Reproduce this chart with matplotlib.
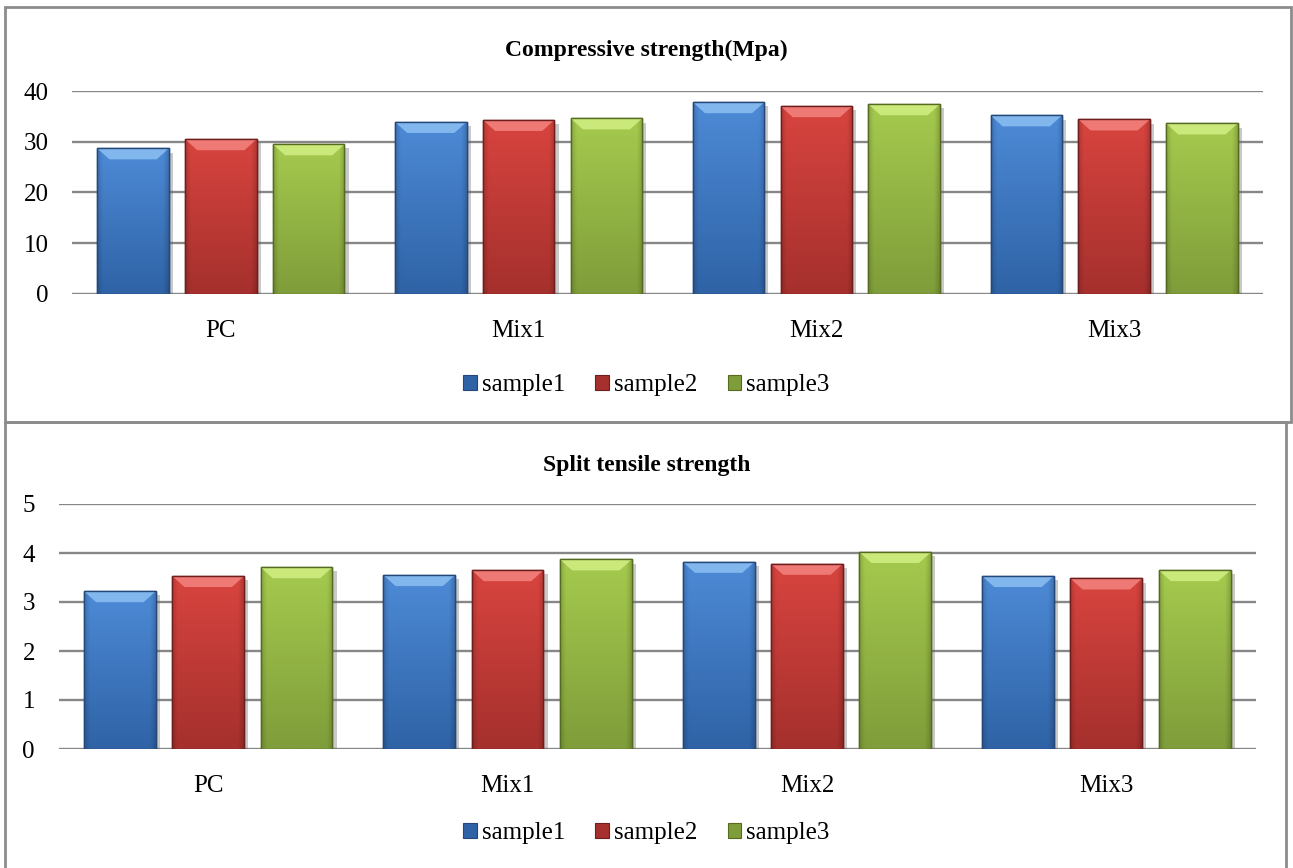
import numpy as np
import matplotlib.pyplot as plt
from matplotlib.patches import Rectangle, Polygon, Patch
from matplotlib import patheffects as pe
from matplotlib.colors import to_rgb

plt.rcParams['font.family'] = ['Liberation Serif', 'DejaVu Serif']

# data
categories = ['PC', 'Mix1', 'Mix2', 'Mix3']
series_names = ['sample1', 'sample2', 'sample3']
comp_sample1 = [28.7, 33.9, 37.8, 35.2]
comp_sample2 = [30.5, 34.3, 37.0, 34.4]
comp_sample3 = [29.5, 34.6, 37.4, 33.6]
split_sample1 = [3.22, 3.55, 3.82, 3.53]
split_sample2 = [3.53, 3.65, 3.78, 3.48]
split_sample3 = [3.71, 3.87, 4.02, 3.65]

# (top colour, bottom colour, edge, bevel highlight)
styles = [
    ('#4d8ad6', '#2f63a6', '#24487a', '#8cc0f2'),
    ('#d8443f', '#a5302d', '#6e1e1c', '#f48480'),
    ('#a5ca4e', '#7f9d3a', '#556b22', '#d2ef84'),
]

W, H = 1293, 868
fig = plt.figure(figsize=(W / 100, H / 100), dpi=100)


def fx(px):
    return px / W


def fy(py):
    return 1 - py / H


def shade_bar(ax, bar, st):
    x, w, h = bar.get_x(), bar.get_width(), bar.get_height()
    top, bottom, edge, light = [np.array(to_rgb(c)) for c in st]
    t = np.linspace(0, 1, 80)[:, None]
    col = (1 - t) * top + t * bottom
    xs = np.linspace(0, 1, 40)
    side = 1 - 0.15 * np.clip(1 - np.minimum(xs, 1 - xs) / 0.07, 0, 1)
    img = np.clip(col[:, None, :] * side[None, :, None], 0, 1)
    im = ax.imshow(img, extent=[x, x + w, 0, h], aspect='auto', origin='upper',
                   zorder=2.1, interpolation='bilinear')
    im.set_clip_path(bar)
    # top bevel
    units_per_px = ax.get_ylim()[1] / ax.bbox.height
    dy = 11 * units_per_px
    dx = 0.17 * w
    bev = Polygon([(x, h), (x + w, h), (x + w - dx, h - dy), (x + dx, h - dy)],
                  closed=True, facecolor=light, edgecolor='none', alpha=0.85, zorder=2.2)
    ax.add_patch(bev)
    ax.add_patch(Rectangle((x, 0), w, h, fill=False, edgecolor=edge, lw=1.0, zorder=2.3))


def draw_panel(rect, series, ymax, ystep, title, title_y, legend_y):
    ax = fig.add_axes(rect)
    xpos = np.arange(len(categories))
    width = 0.24
    step = 0.295
    for i, vals in enumerate(series):
        bars = ax.bar(xpos + (i - 1) * step, vals, width, color=styles[i][1],
                      edgecolor=styles[i][2], lw=1.0, zorder=2)
        for b in bars:
            b.set_path_effects([pe.SimplePatchShadow(offset=(3, -3), shadow_rgbFace='#666666', alpha=0.35),
                                pe.Normal()])
    ax.set_xlim(-0.5, len(categories) - 0.5)
    ax.set_ylim(0, ymax)
    for i, vals in enumerate(series):
        for b in ax.containers[i]:
            shade_bar(ax, b, styles[i])
    ax.set_xlim(-0.5, len(categories) - 0.5)
    ax.set_ylim(0, ymax)
    ax.set_yticks(np.arange(0, ymax + ystep / 2, ystep))
    ax.set_xticks(xpos)
    ax.set_xticklabels(categories)
    ax.yaxis.grid(True, color='#878787', lw=1.7)
    ax.set_axisbelow(True)
    for s in ax.spines.values():
        s.set_visible(False)
    ax.tick_params(length=0, labelsize=18)
    ax.tick_params(axis='y', pad=17)
    ax.tick_params(axis='x', pad=19)
    fig.text(0.5, fy(title_y), title, ha='center', va='center', fontsize=17, fontweight='bold')
    handles = [Patch(facecolor=styles[i][1], edgecolor=styles[i][2], lw=0.8) for i in range(3)]
    fig.legend(handles, series_names, loc='center', bbox_to_anchor=(0.5, fy(legend_y)), ncol=3,
               frameon=False, fontsize=18, handlelength=0.55, handleheight=0.55,
               handletextpad=0.2, columnspacing=1.2)
    return ax


# panel frames
fig.add_artist(Rectangle((fx(5), fy(422)), fx(1291) - fx(5), fy(7) - fy(422),
                         transform=fig.transFigure, fill=False, edgecolor='#8c8c8c', lw=2))
fig.add_artist(Rectangle((fx(5), fy(875)), fx(1286) - fx(5), fy(422) - fy(875),
                         transform=fig.transFigure, fill=False, edgecolor='#8c8c8c', lw=2))

draw_panel([fx(72), fy(294), fx(1263) - fx(72), fy(91) - fy(294)],
           [comp_sample1, comp_sample2, comp_sample3], 40, 10,
           'Compressive strength(Mpa)', 50, 385)
draw_panel([fx(58.5), fy(749), fx(1256) - fx(58.5), fy(504) - fy(749)],
           [split_sample1, split_sample2, split_sample3], 5, 1,
           'Split tensile strength', 466, 833)

fig.savefig('out.png', dpi=100)
